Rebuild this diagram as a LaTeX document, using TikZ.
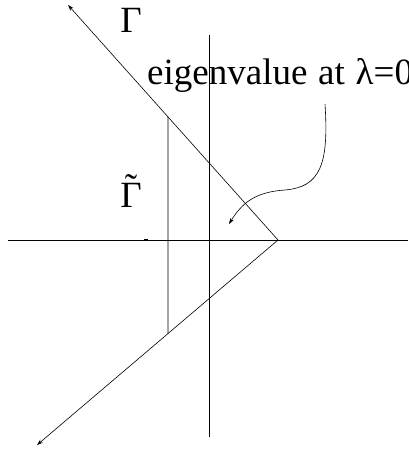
\documentclass[tikz,border=0pt]{standalone}
\usepackage{fontspec}
\setmainfont{Liberation Serif}
\usetikzlibrary{arrows.meta, calc}

\begin{document}
\begin{tikzpicture}[
  x=1pt, y=-1pt,
  every node/.style = {font=\fontsize{37}{40}\selectfont, inner sep=0pt},
  axis/.style = {line width=0.6pt},
  contour/.style = {line width=0.6pt},
  >={Stealth[length=6pt, width=4pt]}
]
  \useasboundingbox (0,0) rectangle (408,449);

  \coordinate (xl) at (8,240);
  \coordinate (xr) at (408,240);
  \coordinate (yt) at (209,35);
  \coordinate (yb) at (209,437);
  \coordinate (vertex) at (278,240);
  \coordinate (gtop) at (68,5);
  \coordinate (gbot) at (37,445);
  \coordinate (cuttop) at ($(vertex)!0.5238!(gtop)$);
  \coordinate (cutbot) at ($(vertex)!0.4564!(gbot)$);
  \coordinate (tail) at (325,104);
  \coordinate (head) at (229,224);

  \draw[axis] (xl) -- (xr);
  \draw[axis] (yt) -- (yb);
  \draw[axis, line width=1.4pt] (144,240) -- (148,240);

  \draw[contour, <->] (gtop) -- (vertex) -- (gbot);
  \draw[contour] (cuttop) -- (cutbot);

  \node[anchor=base] (gamma) at (131,33) {Γ};
  \node[anchor=base] (gammat) at (131,207) {\accent"02DC Γ};
  \node[anchor=base west] (note) at (147,85)
    {eigenvalue\hspace{1.5pt} at\hspace{1.5pt} λ=0};

  \draw[contour, ->] (tail) .. controls (329,165) and (320,187) .. (285,190)
    .. controls (255,192) and (242,203) .. (head);
\end{tikzpicture}
\end{document}
